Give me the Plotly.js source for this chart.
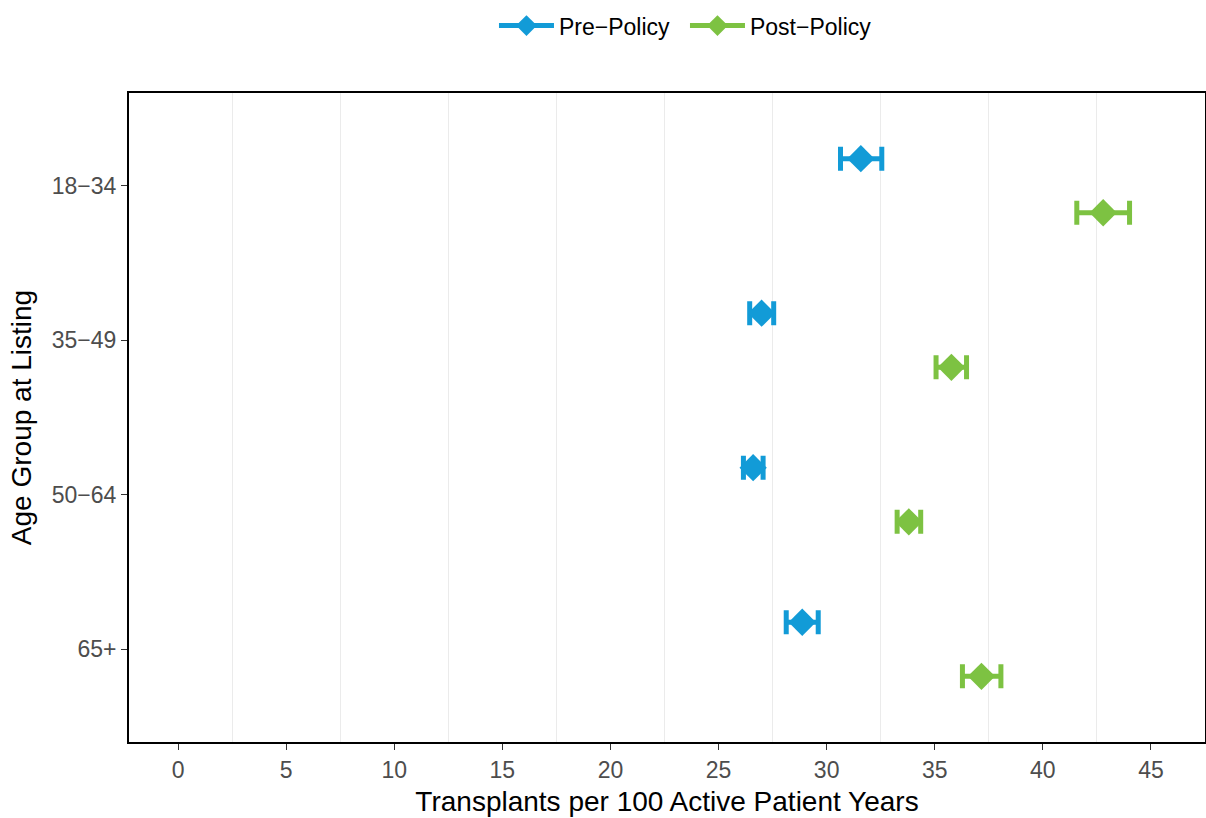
<!DOCTYPE html>
<html>
<head>
<meta charset="utf-8">
<script src="https://cdn.plot.ly/plotly-3.0.1.min.js"></script>
<style>html,body{margin:0;padding:0;background:#fff}#chart{width:1206px;height:818px}</style>
</head>
<body>
<div id="chart"></div>
<script>
const ageGroups = ["18\u221234", "35\u221249", "50\u221264", "65+"];
const preRate  = [31.58, 26.99, 26.60, 28.87];
const preLow   = [30.64, 26.44, 26.15, 28.13];
const preHigh  = [32.55, 27.55, 27.06, 29.61];
const postRate = [42.79, 35.77, 33.80, 37.16];
const postLow  = [41.57, 35.06, 33.26, 36.28];
const postHigh = [44.01, 36.47, 34.35, 38.06];
const seriesNames = ["Pre\u2212Policy", "Post\u2212Policy"];
const xTicks = [0, 5, 10, 15, 20, 25, 30, 35, 40, 45];

const blue = "#129BD7";
const green = "#7DC242";

function mk(name, rate, low, high, color) {
  return {
    type: "scatter", mode: "markers", orientation: "h",
    name: name, showlegend: false,
    x: rate, y: ageGroups,
    marker: {symbol: "diamond", size: 21, color: color},
    error_x: {type: "data", symmetric: false,
      array: high.map((h, i) => h - rate[i]),
      arrayminus: low.map((l, i) => rate[i] - l),
      color: color, thickness: 5, width: 12}
  };
}
function leg(name, color) {
  return {
    type: "scatter", mode: "lines+markers", name: name,
    x: [null], y: [null],
    marker: {symbol: "diamond", size: 21, color: color},
    line: {color: color, width: 5}
  };
}

const data = [
  mk(seriesNames[0], preRate, preLow, preHigh, blue),
  mk(seriesNames[1], postRate, postLow, postHigh, green),
  leg(seriesNames[0], blue),
  leg(seriesNames[1], green)
];

const layout = {
  width: 1206, height: 818,
  margin: {l: 129, r: 1, t: 93, b: 76},
  paper_bgcolor: "#fff", plot_bgcolor: "#fff",
  font: {family: "Liberation Sans, Arial, sans-serif", color: "#000"},
  scattermode: "group", scattergap: 0.3,
  xaxis: {
    range: [-2.27, 47.5], tickvals: xTicks, ticktext: xTicks.map(String),
    showgrid: false, zeroline: false,
    minor: {tick0: 2.5, dtick: 5, showgrid: true, gridcolor: "#ebebeb", gridwidth: 1, ticks: ""},
    ticks: "outside", ticklen: 6, tickwidth: 1.2, tickcolor: "#333",
    tickfont: {size: 23, color: "#4d4d4d"},
    showline: true, mirror: true, linecolor: "#000", linewidth: 2,
    title: {text: "Transplants per 100 Active Patient Years", font: {size: 28, color: "#000"}, standoff: 10}
  },
  yaxis: {
    type: "category", categoryorder: "array", categoryarray: ageGroups,
    range: [3.6, -0.6],
    showgrid: false, zeroline: false,
    ticks: "outside", ticklen: 6, tickwidth: 1.2, tickcolor: "#333",
    tickfont: {size: 23, color: "#4d4d4d"},
    showline: true, mirror: true, linecolor: "#000", linewidth: 2,
    title: {text: "Age Group at Listing", font: {size: 28, color: "#000"}, standoff: 12}
  },
  legend: {orientation: "h", x: 0.3392, xanchor: "left", y: 0.995, yanchor: "top",
    xref: "paper", yref: "container",
    font: {size: 23, color: "#000"}, itemwidth: 55,
    entrywidth: 121, entrywidthmode: "pixels"}
};

Plotly.newPlot("chart", data, layout, {displayModeBar: false});
</script>
</body>
</html>
